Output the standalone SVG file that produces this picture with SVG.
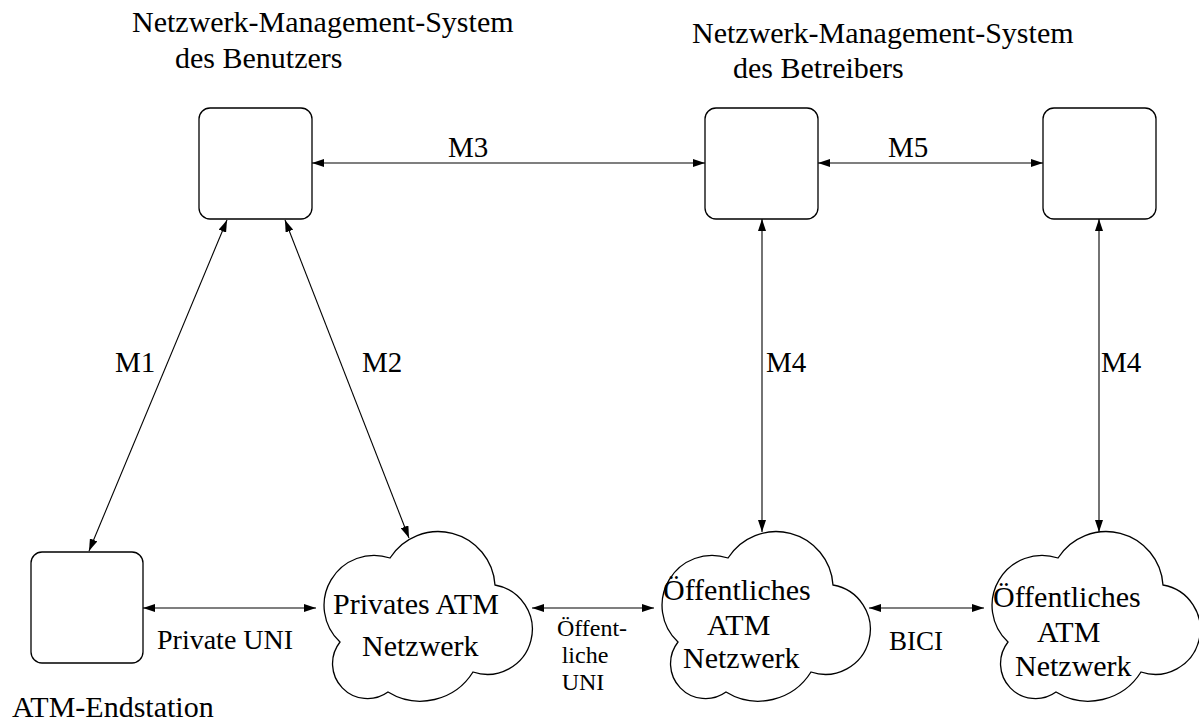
<svg xmlns="http://www.w3.org/2000/svg" width="1199" height="722" viewBox="0 0 1199 722">
<defs>
<style>
text{font-family:"Liberation Serif","Times New Roman",serif;fill:#000}
.h{font-size:30px}
.m{font-size:29px}
.l{font-size:28px}
.s{font-size:27px}
.u{font-size:24px}
.box{fill:#fff;stroke:#000;stroke-width:1.3}
.cloud{fill:#fff;stroke:#000;stroke-width:1.3}
.c{fill:none;stroke:#000;stroke-width:1.1;marker-start:url(#ah);marker-end:url(#ah)}
</style>
<marker id="ah" viewBox="0 0 12 8" refX="12" refY="4" markerWidth="12" markerHeight="8" markerUnits="userSpaceOnUse" orient="auto-start-reverse">
<path d="M0,0 L12,4 L0,8 Z" fill="#000"/>
</marker>
<path id="cloudShape" d="M74,558 A57,57 0 0 1 179,585 A45,45 0 1 1 157,672 A62,62 0 0 1 72,692 A35,35 0 0 1 24,642 A50,50 0 0 1 74,558 Z"/>
</defs>
<rect width="1199" height="722" fill="#fff"/>

<g id="connectors">
<line class="c" x1="312" y1="163" x2="705" y2="163"/>
<line class="c" x1="818" y1="163" x2="1043" y2="163"/>
<line class="c" x1="227" y1="220" x2="89" y2="551"/>
<line class="c" x1="285" y1="220" x2="409" y2="538"/>
<line class="c" x1="762" y1="219" x2="762" y2="532"/>
<line class="c" x1="1099" y1="219" x2="1099" y2="532"/>
<line class="c" x1="143" y1="608" x2="316" y2="608"/>
<line class="c" x1="532" y1="608" x2="654" y2="608"/>
<line class="c" x1="869" y1="608" x2="984" y2="608"/>
<text class="m" x="448" y="157">M3</text>
<text class="m" x="888" y="157">M5</text>
<text class="m" x="115" y="372">M1</text>
<text class="m" x="362" y="372">M2</text>
<text class="m" x="766" y="372">M4</text>
<text class="m" x="1101" y="372">M4</text>
<text class="l" x="157" y="649">Private UNI</text>
<text class="u" x="592" y="636" text-anchor="middle">Öffent-</text>
<text class="u" x="585" y="663" text-anchor="middle">liche</text>
<text class="u" x="583" y="690" text-anchor="middle">UNI</text>
<text class="s" x="889" y="650">BICI</text>
</g>

<g id="nms-benutzer">
<rect class="box" x="199" y="108" width="113" height="111" rx="11"/>
<text class="h" x="132" y="32">Netzwerk-Management-System</text>
<text class="h" x="175" y="68">des Benutzers</text>
</g>

<g id="nms-betreiber">
<rect class="box" x="705" y="108" width="113" height="111" rx="11"/>
<text class="h" x="692" y="43">Netzwerk-Management-System</text>
<text class="h" x="733" y="78">des Betreibers</text>
</g>

<g id="nms-betreiber2">
<rect class="box" x="1043" y="108" width="113" height="111" rx="11"/>
</g>

<g id="endstation">
<rect class="box" x="31" y="552" width="112" height="111" rx="11"/>
<text class="h" x="12" y="717">ATM-Endstation</text>
</g>

<g id="privates-netz">
<use href="#cloudShape" class="cloud" transform="translate(316,0)"/>
<text class="h" x="333" y="614">Privates ATM</text>
<text class="h" x="362" y="656">Netzwerk</text>
</g>

<g id="oeffentliches-netz1">
<use href="#cloudShape" class="cloud" transform="translate(654,0)"/>
<text class="h" x="663" y="600">Öffentliches</text>
<text class="h" x="707" y="635">ATM</text>
<text class="h" x="683" y="668">Netzwerk</text>
</g>

<g id="oeffentliches-netz2">
<use href="#cloudShape" class="cloud" transform="translate(984,0)"/>
<text class="h" x="993" y="607">Öffentliches</text>
<text class="h" x="1037" y="642">ATM</text>
<text class="h" x="1015" y="676">Netzwerk</text>
</g>
</svg>
